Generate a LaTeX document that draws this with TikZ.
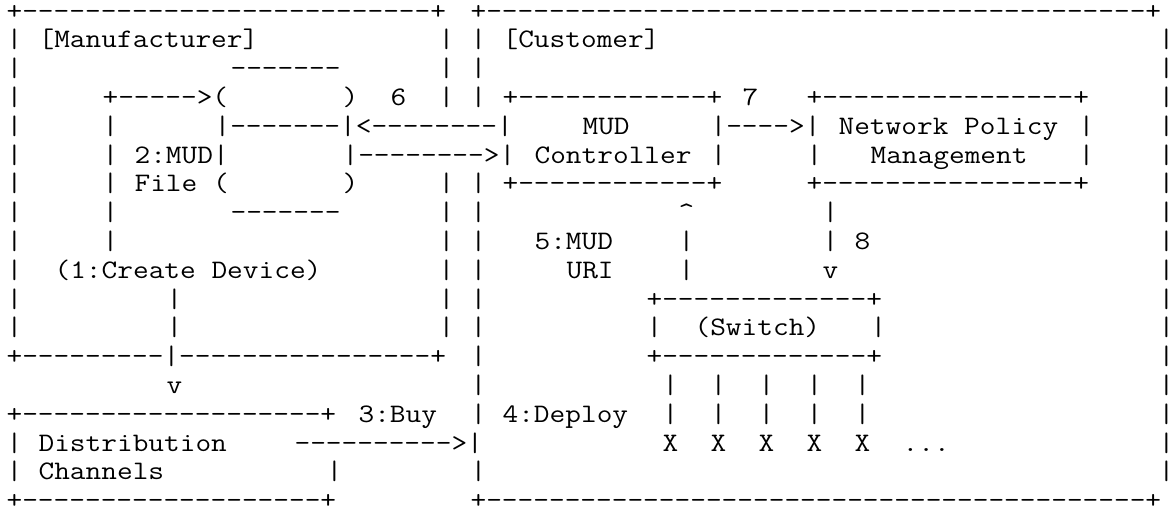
\documentclass[tikz,border=0pt]{standalone}
\usepackage{graphicx}
\newcount\dashcnt
\newcommand\dashrun[1]{\dashcnt=0\relax\loop\ifnum\dashcnt<#1\relax-\kern0pt\advance\dashcnt by 1\relax\repeat}%
\tikzset{cellbox/.style={anchor=base west, inner sep=0pt, outer sep=0pt,
  font=\ttfamily\fontsize{13.35pt}{14pt}\selectfont}}
\newcommand\cell[3]{\node[cellbox] (c#1-#2) at ({3.3pt+8pt*#2},{-9.5pt-14.4pt*#1}) {\scalebox{1.1414}[1]{#3}};}
\begin{document}
\begin{tikzpicture}
\fill[white] (0,0) rectangle (586.5pt,-257.5pt);
\useasboundingbox (0,0) rectangle (586.5pt,-257.5pt);
% row 0
\cell{0}{0}{+\dashrun{26}+}\cell{0}{29}{+\dashrun{42}+}
% row 1
\cell{1}{0}{|}\cell{1}{2}{[Manufacturer]}\cell{1}{27}{|}\cell{1}{29}{|}\cell{1}{31}{[Customer]}\cell{1}{72}{|}
% row 2
\cell{2}{0}{|}\cell{2}{14}{\dashrun{7}}\cell{2}{27}{|}\cell{2}{29}{|}\cell{2}{72}{|}
% row 3
\cell{3}{0}{|}\cell{3}{6}{+\dashrun{5}>(}\cell{3}{21}{)}\cell{3}{24}{6}\cell{3}{27}{|}\cell{3}{29}{|}
\cell{3}{31}{+\dashrun{12}+}\cell{3}{46}{7}\cell{3}{50}{+\dashrun{16}+}\cell{3}{72}{|}
% row 4
\cell{4}{0}{|}\cell{4}{6}{|}\cell{4}{13}{|\dashrun{7}|<\dashrun{8}|}\cell{4}{36}{MUD}
\cell{4}{44}{|\dashrun{4}>|}\cell{4}{52}{Network Policy}\cell{4}{67}{|}\cell{4}{72}{|}
% row 5
\cell{5}{0}{|}\cell{5}{6}{|}\cell{5}{8}{2:MUD|}\cell{5}{21}{|\dashrun{8}>|}\cell{5}{33}{Controller}
\cell{5}{44}{|}\cell{5}{50}{|}\cell{5}{54}{Management}\cell{5}{67}{|}\cell{5}{72}{|}
% row 6
\cell{6}{0}{|}\cell{6}{6}{|}\cell{6}{8}{File (}\cell{6}{21}{)}\cell{6}{27}{|}\cell{6}{29}{|}
\cell{6}{31}{+\dashrun{12}+}\cell{6}{50}{+\dashrun{16}+}\cell{6}{72}{|}
% row 7
\cell{7}{0}{|}\cell{7}{6}{|}\cell{7}{14}{\dashrun{7}}\cell{7}{27}{|}\cell{7}{29}{|}
\cell{7}{42}{\textasciicircum}\cell{7}{51}{|}\cell{7}{72}{|}
% row 8
\cell{8}{0}{|}\cell{8}{6}{|}\cell{8}{27}{|}\cell{8}{29}{|}\cell{8}{33}{5:MUD}\cell{8}{42}{|}
\cell{8}{51}{|}\cell{8}{53}{8}\cell{8}{72}{|}
% row 9
\cell{9}{0}{|}\cell{9}{3}{(1:Create Device)}\cell{9}{27}{|}\cell{9}{29}{|}\cell{9}{35}{URI}
\cell{9}{42}{|}\cell{9}{51}{v}\cell{9}{72}{|}
% row 10
\cell{10}{0}{|}\cell{10}{10}{|}\cell{10}{27}{|}\cell{10}{29}{|}\cell{10}{40}{+\dashrun{13}+}\cell{10}{72}{|}
% row 11
\cell{11}{0}{|}\cell{11}{10}{|}\cell{11}{27}{|}\cell{11}{29}{|}\cell{11}{40}{|}\cell{11}{43}{(Switch)}
\cell{11}{54}{|}\cell{11}{72}{|}
% row 12
\cell{12}{0}{+\dashrun{9}|\dashrun{16}+}\cell{12}{29}{|}\cell{12}{40}{+\dashrun{13}+}\cell{12}{72}{|}
% row 13
\cell{13}{10}{v}\cell{13}{29}{|}\cell{13}{41}{|}\cell{13}{44}{|}\cell{13}{47}{|}\cell{13}{50}{|}
\cell{13}{53}{|}\cell{13}{72}{|}
% row 14
\cell{14}{0}{+\dashrun{19}+}\cell{14}{22}{3:Buy}\cell{14}{29}{|}\cell{14}{31}{4:Deploy}
\cell{14}{41}{|}\cell{14}{44}{|}\cell{14}{47}{|}\cell{14}{50}{|}\cell{14}{53}{|}\cell{14}{72}{|}
% row 15
\cell{15}{0}{|}\cell{15}{2}{Distribution}\cell{15}{18}{\dashrun{10}>|}
\cell{15}{41}{X}\cell{15}{44}{X}\cell{15}{47}{X}\cell{15}{50}{X}\cell{15}{53}{X}\cell{15}{56}{...}\cell{15}{72}{|}
% row 16
\cell{16}{0}{|}\cell{16}{2}{Channels}\cell{16}{20}{|}\cell{16}{29}{|}\cell{16}{72}{|}
% row 17
\cell{17}{0}{+\dashrun{19}+}\cell{17}{29}{+\dashrun{42}+}
\end{tikzpicture}
\end{document}
